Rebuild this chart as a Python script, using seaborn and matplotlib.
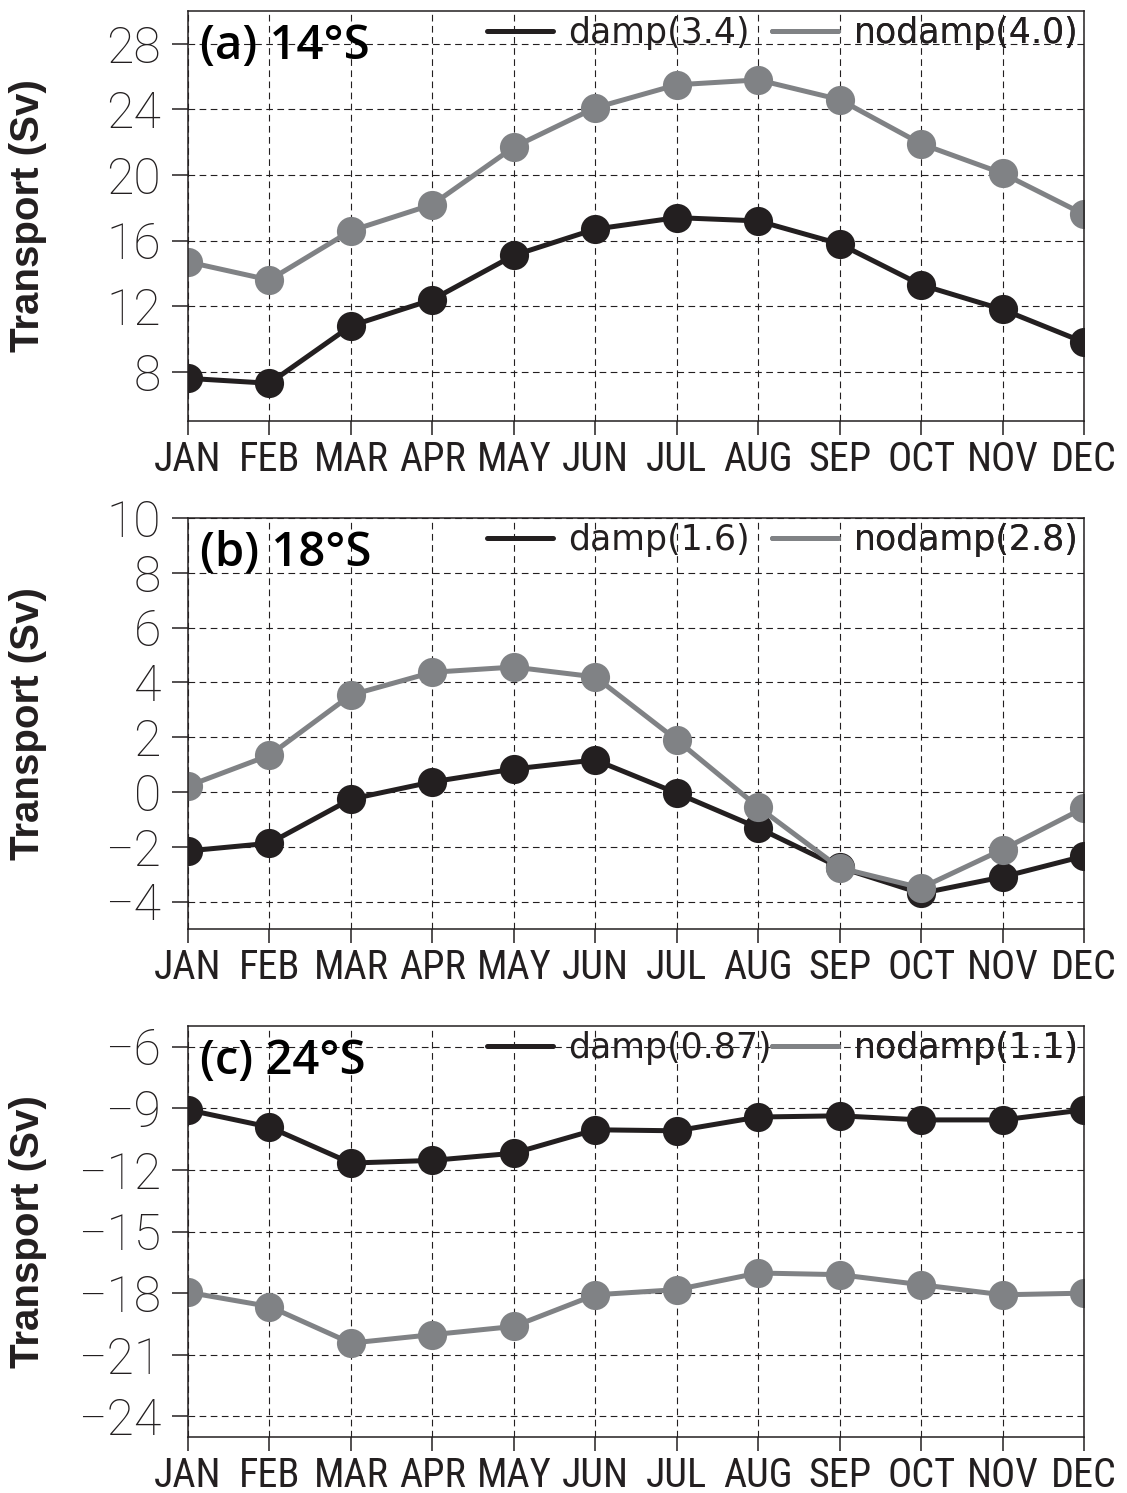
import matplotlib
matplotlib.use("Agg")
import matplotlib.pyplot as plt
from matplotlib import font_manager as fm
from matplotlib.lines import Line2D
import numpy as np
import pandas as pd
import seaborn as sns

# ---- data -------------------------------------------------------------
months = ["JAN", "FEB", "MAR", "APR", "MAY", "JUN",
          "JUL", "AUG", "SEP", "OCT", "NOV", "DEC"]

damp_14s = [7.6, 7.3, 10.8, 12.4, 15.1, 16.7, 17.4, 17.2, 15.8, 13.3, 11.8, 9.8]
nodamp_14s = [14.7, 13.6, 16.6, 18.2, 21.7, 24.1, 25.5, 25.8, 24.6, 21.9, 20.1, 17.6]

damp_18s = [-2.15, -1.87, -0.26, 0.37, 0.84, 1.17, -0.04, -1.31, -2.75, -3.7, -3.1, -2.34]
nodamp_18s = [0.22, 1.34, 3.54, 4.37, 4.56, 4.2, 1.9, -0.55, -2.77, -3.5, -2.1, -0.58]

damp_24s = [-9.08, -9.92, -11.67, -11.54, -11.19, -10.05, -10.1, -9.43, -9.37, -9.57, -9.57, -9.08]
nodamp_24s = [-17.96, -18.65, -20.43, -20.02, -19.62, -18.08, -17.83, -17.02, -17.1, -17.59, -18.08, -18.0]

panel_titles = ["(a) 14°S", "(b) 18°S", "(c) 24°S"]
damp_labels = ["damp(3.4)", "damp(1.6)", "damp(0.87)"]
nodamp_labels = ["nodamp(4.0)", "nodamp(2.8)", "nodamp(1.1)"]
yticks_list = [[8, 12, 16, 20, 24, 28],
               list(range(-4, 11, 2)),
               [-24, -21, -18, -15, -12, -9, -6]]
ylims = [(5, 30), (-5, 10), (-25, -5)]

series = [(damp_14s, nodamp_14s), (damp_18s, nodamp_18s), (damp_24s, nodamp_24s)]

# ---- style ------------------------------------------------------------
sns.set_theme(style="ticks")
INK = "#231f20"
GREY = "#808285"
plt.rcParams["font.family"] = ["Liberation Sans", "DejaVu Sans"]
plt.rcParams["axes.unicode_minus"] = True

available = {f.name for f in fm.fontManager.ttflist}
narrow = next((n for n in ["Liberation Sans Narrow", "Roboto Condensed",
                           "Open Sans Condensed"] if n in available), None)
if narrow:
    month_font = dict(family=[narrow, "DejaVu Sans"], size=29)
else:
    month_font = dict(family=["Liberation Sans", "DejaVu Sans"], size=22)

tick_family = ["Roboto", "Liberation Sans", "DejaVu Sans"]
title_family = ["Open Sans", "Liberation Sans", "DejaVu Sans"]

W, H = 1127, 1493
fig = plt.figure(figsize=(W / 100, H / 100), dpi=100)

left_px, right_px = 188, 1084
boxes = [(11, 421), (518, 929), (1026, 1437)]

for i, ((top, bot), (dmp, ndmp)) in enumerate(zip(boxes, series)):
    ax = fig.add_axes([left_px / W, 1 - bot / H,
                       (right_px - left_px) / W, (bot - top) / H])
    df = pd.DataFrame({
        "month": list(range(len(months))) * 2,
        "transport": list(dmp) + list(ndmp),
        "run": ["damp"] * len(months) + ["nodamp"] * len(months),
    })
    sns.lineplot(data=df, x="month", y="transport", hue="run",
                 hue_order=["damp", "nodamp"], palette=[INK, GREY],
                 marker="o", markersize=21, markeredgewidth=0,
                 linewidth=3.6, legend=False, ax=ax)

    ax.set_xlim(0, 11)
    ax.set_ylim(*ylims[i])
    ax.set_xticks(range(len(months)))
    ax.set_xticklabels(months, color=INK, **month_font)
    ax.set_yticks(yticks_list[i])
    ax.set_yticklabels([f"{v:d}".replace("-", "\u2212") for v in yticks_list[i]],
                       color=INK, family=tick_family, fontweight="light",
                       size=36)
    ax.tick_params(axis="y", direction="out", length=11.5, width=1.1,
                   color=INK, pad=8, left=True, right=False)
    ax.tick_params(axis="x", direction="out", length=10, width=1.1,
                   color=INK, pad=4, bottom=True, top=False)
    for sp in ax.spines.values():
        sp.set_color(INK)
        sp.set_linewidth(1.1)
        sp.set_visible(True)

    ax.set_axisbelow(True)
    ax.grid(True, color=INK, linewidth=0.8, linestyle=(0, (6, 4)))

    ax.set_xlabel("")
    ax.set_ylabel("Transport (Sv)", fontsize=29, fontweight="bold",
                  color=INK, family=["Liberation Sans", "DejaVu Sans"])
    ax.yaxis.set_label_coords((47 - left_px) / (right_px - left_px), 0.5)

    ax.text(0.013, 0.97, panel_titles[i], transform=ax.transAxes,
            ha="left", va="top", fontsize=34, fontweight="semibold",
            color="black", family=title_family)

    # two independent legend entries at fixed positions
    ypos = 1 - 22 / (bot - top)
    for xpx, lab, col in [(487, damp_labels[i], INK), (772, nodamp_labels[i], GREY)]:
        h = Line2D([], [], color=col, linewidth=3.6, solid_capstyle="round")
        leg = ax.legend([h], [lab], loc="center left",
                        bbox_to_anchor=((xpx - left_px) / (right_px - left_px), ypos),
                        frameon=False, borderpad=0, borderaxespad=0,
                        handlelength=1.9, handletextpad=0.45,
                        prop=dict(family=["DejaVu Sans"], size=25))
        for t in leg.get_texts():
            t.set_color(INK)
        ax.add_artist(leg)

fig.savefig("out.png", dpi=100)
